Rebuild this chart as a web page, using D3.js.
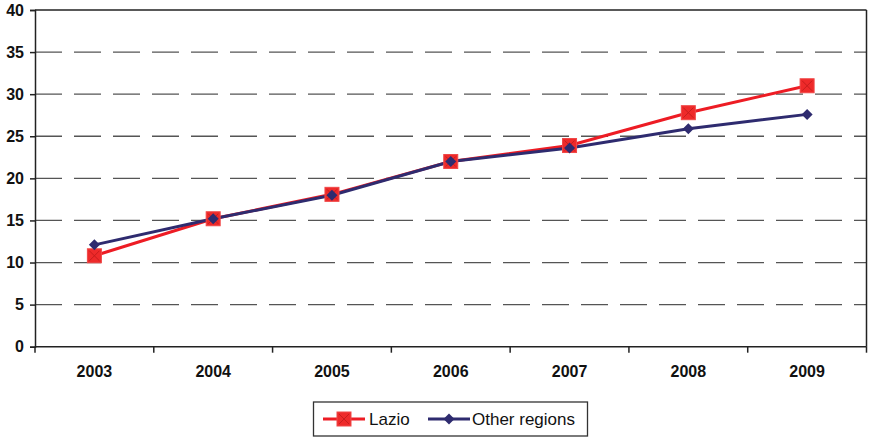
<!DOCTYPE html>
<html>
<head>
<meta charset="utf-8">
<script src="https://cdn.jsdelivr.net/npm/d3@7"></script>
<style>
  body { margin: 0; background: #fff; }
  svg { display: block; }
</style>
</head>
<body>
<svg id="chart" width="869" height="437"></svg>
<script>
const years = ["2003", "2004", "2005", "2006", "2007", "2008", "2009"];
const lazio = [10.8, 15.2, 18.1, 22.0, 23.9, 27.8, 31.0];
const otherRegions = [12.1, 15.2, 18.0, 22.0, 23.6, 25.9, 27.6];
const yTicks = [0, 5, 10, 15, 20, 25, 30, 35, 40];

const svg = d3.select("#chart");
const margin = { left: 35, top: 10, right: 2.5, bottom: 90 };
const W = 869, H = 437;
const plotBottom = 346.7;
const font = "Liberation Sans, Arial, sans-serif";

const x = d3.scaleBand().domain(years).range([margin.left, W - margin.right]);
const y = d3.scaleLinear().domain([0, 40]).range([plotBottom, margin.top]);

const red = "#ed1c24";
const navy = "#2e2b6f";

// dashed horizontal gridlines
svg.append("g")
  .selectAll("line")
  .data(yTicks.filter(d => d > 0 && d < 40))
  .join("line")
  .attr("x1", margin.left).attr("x2", W - margin.right)
  .attr("y1", d => y(d)).attr("y2", d => y(d))
  .attr("stroke", "#555").attr("stroke-width", 1.3)
  .attr("stroke-dasharray", "27,12");

// top and right frame lines
svg.append("line")
  .attr("x1", margin.left).attr("x2", W - margin.right)
  .attr("y1", y(40)).attr("y2", y(40))
  .attr("stroke", "#222").attr("stroke-width", 1.5);
svg.append("line")
  .attr("x1", W - margin.right).attr("x2", W - margin.right)
  .attr("y1", y(40)).attr("y2", plotBottom)
  .attr("stroke", "#222").attr("stroke-width", 1.5);

// y axis
const yAxis = svg.append("g")
  .attr("transform", `translate(${margin.left},0)`)
  .call(d3.axisLeft(y).tickValues(yTicks).tickSize(5).tickPadding(6));
yAxis.select(".domain").attr("stroke", "#222").attr("stroke-width", 1.5);
yAxis.selectAll(".tick line").attr("stroke", "#222").attr("stroke-width", 1.5);
yAxis.selectAll("text")
  .attr("font-family", font)
  .attr("font-weight", "bold").attr("font-size", 16).attr("fill", "#111");

// x axis: ticks sit on the category boundaries
const xAxisG = svg.append("g").attr("transform", `translate(0,${plotBottom})`);
xAxisG.append("line")
  .attr("x1", margin.left).attr("x2", W - margin.right)
  .attr("stroke", "#222").attr("stroke-width", 1.5);
const boundaries = years.map(d => x(d)).concat([x(years[years.length - 1]) + x.bandwidth()]);
xAxisG.selectAll("line.tk")
  .data(boundaries)
  .join("line").attr("class", "tk")
  .attr("x1", d => d).attr("x2", d => d)
  .attr("y1", 0).attr("y2", 6)
  .attr("stroke", "#222").attr("stroke-width", 1.5);
xAxisG.selectAll("text")
  .data(years)
  .join("text")
  .attr("x", d => x(d) + x.bandwidth() / 2)
  .attr("y", 30.5)
  .attr("text-anchor", "middle")
  .attr("font-family", font)
  .attr("font-weight", "bold").attr("font-size", 16).attr("fill", "#111")
  .text(d => d);

const cx = d => x(d) + x.bandwidth() / 2;
const line = vals => d3.line().x((d, i) => cx(years[i])).y(d => y(d))(vals);

// Lazio series
svg.append("path").attr("d", line(lazio))
  .attr("fill", "none").attr("stroke", red).attr("stroke-width", 3);

// Other regions series
svg.append("path").attr("d", line(otherRegions))
  .attr("fill", "none").attr("stroke", navy).attr("stroke-width", 3);

function squareMarker(g, px, py) {
  const s = 7;
  g.append("rect").attr("x", px - s).attr("y", py - s).attr("width", 2 * s).attr("height", 2 * s)
    .attr("fill", "#ee2a2a").attr("stroke", "#f04848").attr("stroke-width", 1);
  g.append("path")
    .attr("d", `M${px - s + 2},${py - s + 2}L${px + s - 2},${py + s - 2}M${px + s - 2},${py - s + 2}L${px - s + 2},${py + s - 2}`)
    .attr("stroke", "#c81d1d").attr("stroke-width", 1);
}
function diamondMarker(g, px, py) {
  const r = 5.5;
  g.append("path")
    .attr("d", `M${px},${py - r}L${px + r},${py}L${px},${py + r}L${px - r},${py}Z`)
    .attr("fill", navy);
}

const markersL = svg.append("g");
lazio.forEach((v, i) => squareMarker(markersL, cx(years[i]), y(v)));
const markersO = svg.append("g");
otherRegions.forEach((v, i) => diamondMarker(markersO, cx(years[i]), y(v)));

// legend
const lg = svg.append("g");
lg.append("rect").attr("x", 313.5).attr("y", 402).attr("width", 274).attr("height", 34)
  .attr("fill", "#fff").attr("stroke", "#333").attr("stroke-width", 1.3);
const ly = 419;
lg.append("line").attr("x1", 323).attr("x2", 365).attr("y1", ly).attr("y2", ly)
  .attr("stroke", red).attr("stroke-width", 3);
squareMarker(lg, 344, ly);
lg.append("text").attr("x", 369).attr("y", ly + 6)
  .attr("font-family", font).attr("font-size", 17).attr("fill", "#111")
  .text("Lazio");
lg.append("line").attr("x1", 428).attr("x2", 470).attr("y1", ly).attr("y2", ly)
  .attr("stroke", navy).attr("stroke-width", 3);
diamondMarker(lg, 449, ly);
lg.append("text").attr("x", 472).attr("y", ly + 6)
  .attr("font-family", font).attr("font-size", 17).attr("fill", "#111")
  .text("Other regions");
</script>
</body>
</html>
